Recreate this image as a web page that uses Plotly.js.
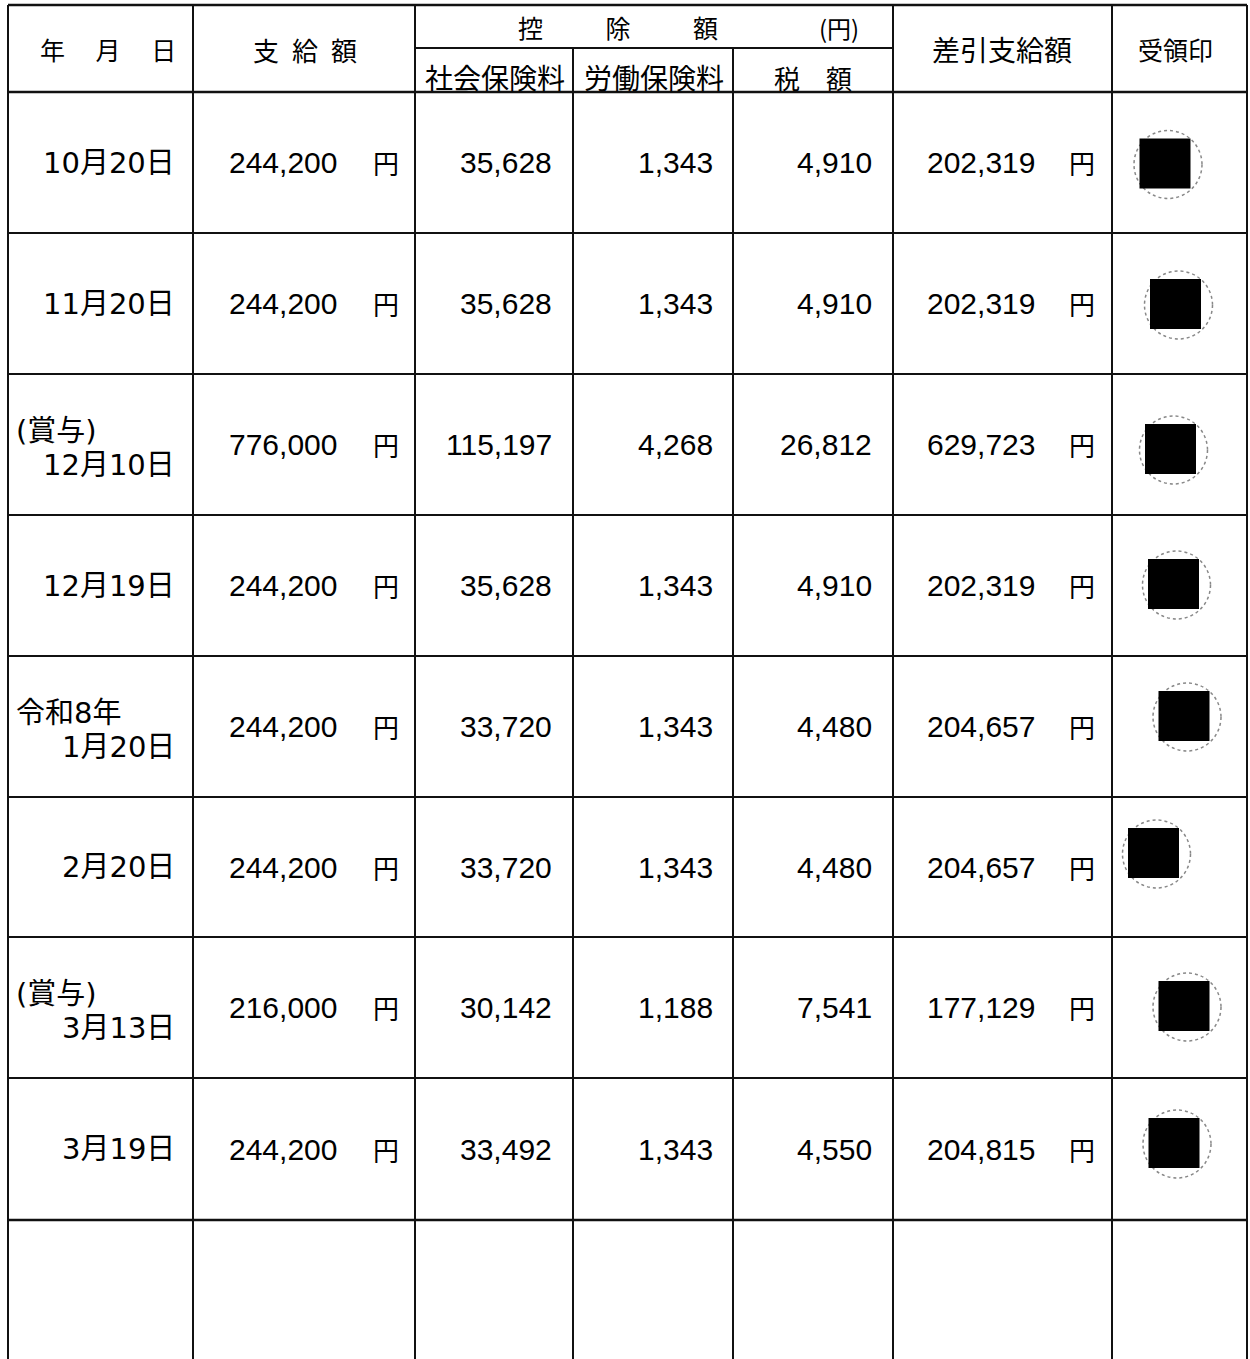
<!DOCTYPE html>
<html><head><meta charset="utf-8">
<script src="https://cdn.plot.ly/plotly-3.0.1.min.js"></script>
<style>html,body{margin:0;padding:0;background:#fff;overflow:hidden;} #chart{width:1250px;height:1359px;}</style>
</head><body><div id="chart"></div>
<script>
// ---- data ----
const datePrefix = ["", "", "(賞与)", "", "令和8年", "", "(賞与)", ""];
const dates = ["10月20日", "11月20日", "12月10日", "12月19日", "1月20日", "2月20日", "3月13日", "3月19日"];
const payAmount = [244200, 244200, 776000, 244200, 244200, 244200, 216000, 244200];
const socialIns = [35628, 35628, 115197, 35628, 33720, 33720, 30142, 33492];
const laborIns = [1343, 1343, 4268, 1343, 1343, 1343, 1188, 1343];
const taxAmount = [4910, 4910, 26812, 4910, 4480, 4480, 7541, 4550];
const netAmount = [202319, 202319, 629723, 202319, 204657, 204657, 177129, 204815];
const yenUnit = "円";
const headerTop = ["年　 月　 日", "支\u2002給\u2002額", "控\u3000\u3000\u2002除\u3000\u3000\u2002額", "(円)", "差引支給額", "受領印"];
const headerSub = ["社会保険料", "労働保険料", "税　額"];

// ---- layout geometry ----
const W = 1250, H = 1359;
const colEdges = [8, 193, 415, 573, 733, 893, 1112, 1247];
const yTop = 5, yMid = 48, yHead = 92;
const rowEdges = [92, 233, 374, 515, 656, 797, 937, 1078, 1220, 1359];
const sealOffsets = [[-14.5, 1], [-4, 0.5], [-9, 4.5], [-6, -1.5], [4.5, -10.5], [-26, -14], [4.5, -1.5], [-5.5, -6]];

const CJK = "Noto Sans CJK JP, Noto Sans CJK SC, sans-serif";
const NUM = "Liberation Sans, Noto Sans CJK JP, sans-serif";
const DATE = "DejaVu Sans, Noto Sans CJK JP, sans-serif";
const ink = "#111";

const shapes = [];
const ann = [];
function line(x0, y0, x1, y1, w) {
  shapes.push({type: "line", xref: "x", yref: "y", x0, y0, x1, y1, line: {color: ink, width: w || 2}});
}
function text(t, x, y, xa, size, fam) {
  ann.push({text: t, x, y, xref: "x", yref: "y", xanchor: xa, yanchor: "middle", showarrow: false,
    font: {family: fam, size: size, color: "#000"}, borderpad: 0});
}
const fmt = v => v.toLocaleString("en-US");

// grid lines
line(colEdges[0], yTop, colEdges[7], yTop, 2.5);
line(colEdges[2], yMid, colEdges[5], yMid, 2);
for (let i = 0; i < rowEdges.length - 1; i++) line(colEdges[0], rowEdges[i], colEdges[7], rowEdges[i], i === 0 || i === 8 ? 2.5 : 2);
[0, 1, 2, 5, 6, 7].forEach(i => line(colEdges[i], yTop, colEdges[i], H, 2));
[3, 4].forEach(i => line(colEdges[i], yMid, colEdges[i], H, 2));

// headers
const yTopC = 27, yHeadC = 49, ySubC = 77;
text(headerTop[0], 108, yHeadC, "center", 25, CJK);
text(headerTop[1], 305, yHeadC, "center", 26, CJK);
text(headerTop[2], 618, yTopC, "center", 25, CJK);
text(headerTop[3], 839, yTopC, "center", 24, CJK);
text(headerTop[4], 1002, yHeadC, "center", 28, CJK);
text(headerTop[5], 1175, yHeadC, "center", 25, CJK);
text(headerSub[0], 495, ySubC, "center", 28, CJK);
text(headerSub[1], 654, ySubC, "center", 28, CJK);
text(headerSub[2], 813, ySubC, "center", 26, CJK);

// body rows
const colRight = [176, 338, 553, 714, 873, 1036];
for (let i = 0; i < dates.length; i++) {
  const yc = (rowEdges[i] + rowEdges[i + 1]) / 2;
  if (datePrefix[i]) {
    text(datePrefix[i], 15, yc - 14, "left", 29, DATE);
    text(dates[i], colRight[0], yc + 20, "right", 29, DATE);
  } else {
    text(dates[i], colRight[0], yc, "right", 29, DATE);
  }
  text(fmt(payAmount[i]), colRight[1], yc, "right", 30, NUM);
  text(yenUnit, 386, yc, "center", 26, CJK);
  text(fmt(socialIns[i]), colRight[2], yc, "right", 30, NUM);
  text(fmt(laborIns[i]), colRight[3], yc, "right", 30, NUM);
  text(fmt(taxAmount[i]), colRight[4], yc, "right", 30, NUM);
  text(fmt(netAmount[i]), colRight[5], yc, "right", 30, NUM);
  text(yenUnit, 1082, yc, "center", 26, CJK);
  // seal (redacted)
  const cx = (colEdges[6] + colEdges[7]) / 2 + sealOffsets[i][0];
  const cy = yc + sealOffsets[i][1];
  shapes.push({type: "circle", xref: "x", yref: "y", x0: cx - 31, x1: cx + 37, y0: cy - 33, y1: cy + 35,
    line: {color: "#888", width: 1.5, dash: "dot"}});
  shapes.push({type: "rect", xref: "x", yref: "y", x0: cx - 25.5, x1: cx + 25.5, y0: cy - 25, y1: cy + 25,
    fillcolor: "#000", line: {width: 0}});
}

const layout = {
  width: W, height: H, margin: {l: 0, r: 0, t: 0, b: 0},
  paper_bgcolor: "#fff", plot_bgcolor: "#fff", showlegend: false,
  xaxis: {range: [0, W], visible: false, fixedrange: true},
  yaxis: {range: [H, 0], visible: false, fixedrange: true},
  shapes: shapes, annotations: ann
};
Plotly.newPlot("chart", [{type: "scatter", x: [], y: [], hoverinfo: "skip"}], layout, {staticPlot: true, displayModeBar: false});
</script></body></html>
